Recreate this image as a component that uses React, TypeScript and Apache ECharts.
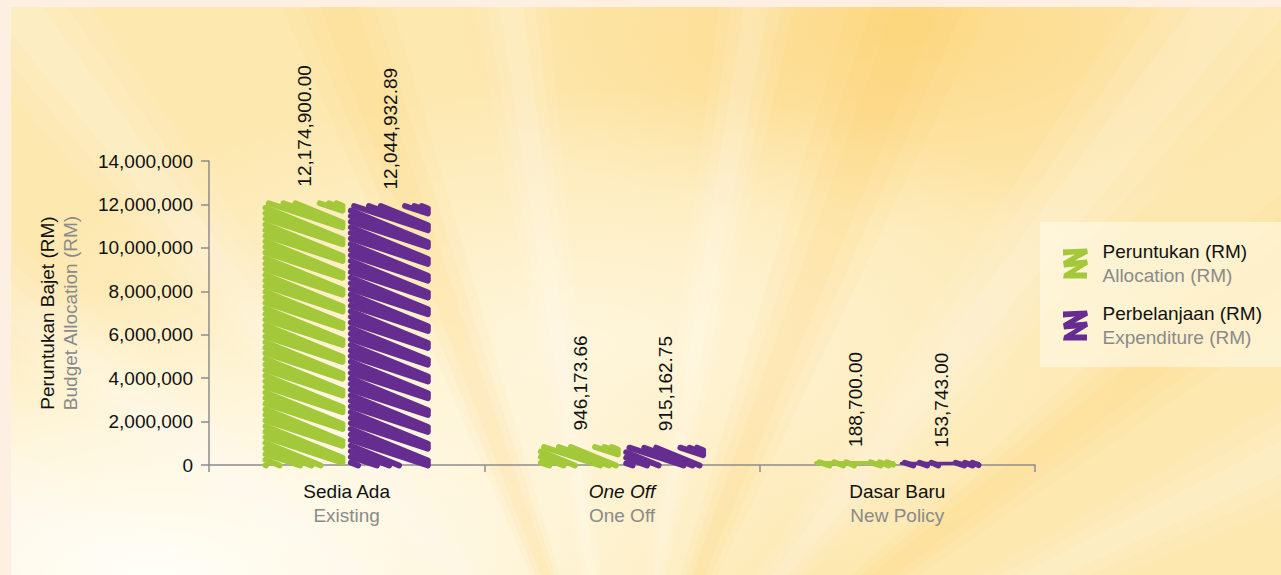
import { useEffect, useRef } from "react";
import * as echarts from "echarts";

// ---- data ----
const categoriesMs = ["Sedia Ada", "One Off", "Dasar Baru"];
const categoriesEn = ["Existing", "One Off", "New Policy"];
const allocation = [12174900, 946173.66, 188700];
const expenditure = [12044932.89, 915162.75, 153743];
const seriesNamesMs = ["Peruntukan (RM)", "Perbelanjaan (RM)"];
const seriesNamesEn = ["Allocation (RM)", "Expenditure (RM)"];
const yAxisTitle = ["Peruntukan Bajet (RM)", "Budget Allocation (RM)"];
const yMin = 0;
const yMax = 14000000;
const yInterval = 2000000;

const FONT = '"Liberation Sans", Arial, Helvetica, sans-serif';
const GREEN = "#a3c93a";
const PURPLE = "#662d91";
const GRAY_TEXT = "#8a8a8a";
const AXIS = "#8c8c8c";

const ZIG =
  "path://M1,1 L25,0 L26,5 L13,12 L25,11 L26,16 L13,24 L25,24 L25,30 L1,30 L2,25 L14,18 L2,19 L1,13 L13,6 L1,7 Z";

function fmt(v: number) {
  return v.toLocaleString("en-US", { minimumFractionDigits: 2, maximumFractionDigits: 2 });
}

function makeRenderItem(color: string, side: number) {
  return (params: any, api: any) => {
    const cat = api.value(0);
    const val = api.value(1);
    const base = api.coord([cat, 0]);
    const top = api.coord([cat, val]);
    const band = api.size([1, 0])[0];
    const barW = band * 0.298;
    const gap = band * 0.012;
    const cx = base[0] + side * (barW + gap) / 2;
    const x0 = cx - barW / 2 + 2.5;
    const x1 = cx + barW / 2 - 2.5;
    const h = base[1] - top[1];
    const yT = top[1] + Math.min(2.5, h * 0.3);
    const yB = base[1] + 0.5;
    const W = x1 - x0;
    const H = yB - yT;
    const step = 5.6;
    const children: any[] = [];
    if (h < 10) {
      children.push({
        type: "line",
        shape: { x1: x0, y1: base[1] - h / 2, x2: x1, y2: base[1] - h / 2 },
        style: { stroke: color, lineWidth: Math.max(3, h), lineCap: "round" },
      });
    }
    let k = 0;
    for (let c = -0.45 * W; c < H + step; c += step, k++) {
      const s = k % 3 === 0 ? 0.33 : k % 3 === 1 ? 0.41 : 0.37;
      const xa = Math.max(x0, x0 + (0 - c) / s);
      const xb = Math.min(x1, x0 + (H - c) / s);
      if (xb - xa < 0.5) continue;
      children.push({
        type: "line",
        shape: { x1: xa, y1: yT + c + s * (xa - x0), x2: xb, y2: yT + c + s * (xb - x0) },
        style: { stroke: color, lineWidth: 5.8, lineCap: "round" },
      });
    }
    children.push({
      type: "text",
      x: cx + 1,
      y: top[1] - 14,
      rotation: Math.PI / 2,
      style: {
        text: fmt(val),
        fill: "#111",
        font: `19px ${FONT}`,
        align: "left",
        verticalAlign: "middle",
      },
    });
    return { type: "group", children };
  };
}

function backgroundElements() {
  const els: any[] = [];
  els.push({ type: "rect", z: -10, shape: { x: 0, y: 0, width: 1281, height: 575 }, style: { fill: "#fde8b0" } });
  els.push({
    type: "rect",
    z: -10,
    shape: { x: 0, y: 0, width: 1281, height: 575 },
    style: {
      fill: new echarts.graphic.RadialGradient(0.7, 0.05, 0.35, [
        { offset: 0, color: "rgba(252,208,110,0.6)" },
        { offset: 1, color: "rgba(252,208,110,0)" },
      ]),
    },
  });
  els.push({
    type: "rect",
    z: -10,
    shape: { x: 0, y: 0, width: 1281, height: 575 },
    style: {
      fill: new echarts.graphic.RadialGradient(0.45, 0.6, 0.45, [
        { offset: 0, color: "rgba(255,252,240,0.7)" },
        { offset: 1, color: "rgba(255,252,240,0)" },
      ]),
    },
  });
  els.push({
    type: "rect",
    z: -10,
    shape: { x: 0, y: 0, width: 1281, height: 575 },
    style: {
      fill: new echarts.graphic.RadialGradient(0.12, 1.0, 0.5, [
        { offset: 0, color: "rgba(255,254,248,1)" },
        { offset: 0.5, color: "rgba(255,252,240,0.7)" },
        { offset: 1, color: "rgba(255,252,240,0)" },
      ]),
    },
  });
  const cxr = 620;
  const cyr = 780;
  const rays: [number, number, string][] = [
    [-66, 5, "w"], [-52, 4, "w"], [-38, 4, "w"], [-20, 4, "o"], [-8, 3, "w"],
    [10, 3, "w"], [21, 5, "o"], [38, 5, "w"], [52, 4, "o"], [64, 4, "w"],
  ];
  const R = 1600;
  for (const [a, w, kind] of rays) {
    for (const [f, alpha] of [[1.8, 0.06], [1.2, 0.07], [0.6, 0.08]]) {
      const a1 = ((a - (w * f) / 2) * Math.PI) / 180;
      const a2 = ((a + (w * f) / 2) * Math.PI) / 180;
      els.push({
        type: "polygon",
        z: -9,
        shape: {
          points: [
            [cxr, cyr],
            [cxr + R * Math.sin(a1), cyr - R * Math.cos(a1)],
            [cxr + R * Math.sin(a2), cyr - R * Math.cos(a2)],
          ],
        },
        style: {
          fill: kind === "w" ? `rgba(255,255,255,${alpha * 1.3})` : `rgba(250,200,90,${alpha})`,
        },
      });
    }
  }
  // cream frame
  els.push({ type: "rect", z: -8, shape: { x: 0, y: 0, width: 1281, height: 7 }, style: { fill: "#fdf0e2" } });
  els.push({ type: "rect", z: -8, shape: { x: 0, y: 0, width: 11, height: 575 }, style: { fill: "#fdf0e2" } });
  // legend panel
  els.push({
    type: "rect",
    z: -7,
    shape: { x: 1040, y: 222, width: 241, height: 145 },
    style: { fill: "rgba(255,250,232,0.6)" },
  });
  // y axis title
  els.push({
    type: "text",
    z: 5,
    x: 47,
    y: 313,
    rotation: Math.PI / 2,
    style: { text: yAxisTitle[0], fill: "#111", font: `19px ${FONT}`, align: "center", verticalAlign: "middle" },
  });
  els.push({
    type: "text",
    z: 5,
    x: 70,
    y: 313,
    rotation: Math.PI / 2,
    style: { text: yAxisTitle[1], fill: GRAY_TEXT, font: `19px ${FONT}`, align: "center", verticalAlign: "middle" },
  });
  return els;
}

export default function App() {
  const ref = useRef<HTMLDivElement>(null);
  useEffect(() => {
    if (!ref.current) return;
    const chart = echarts.init(ref.current, undefined, { renderer: "svg" });
    const option: any = {
      animation: false,
      graphic: { elements: backgroundElements() },
      grid: { left: 209, right: 246, top: 161, bottom: 110, containLabel: false },
      legend: {
        orient: "vertical",
        left: 1063,
        top: 242,
        itemWidth: 26,
        itemHeight: 30,
        itemGap: 19,
        padding: 0,
        icon: ZIG,
        data: seriesNamesMs,
        formatter: (name: string) => {
          const i = seriesNamesMs.indexOf(name);
          return `{a|${name}}\n{b|${seriesNamesEn[i]}}`;
        },
        textStyle: {
          rich: {
            a: { fontSize: 19, fontFamily: FONT, color: "#111", lineHeight: 24, padding: [0, 0, 0, 9] },
            b: { fontSize: 19, fontFamily: FONT, color: GRAY_TEXT, lineHeight: 24, padding: [0, 0, 0, 9] },
          },
        },
      },
      xAxis: {
        type: "category",
        data: categoriesMs,
        boundaryGap: true,
        axisLine: { show: true, lineStyle: { color: AXIS, width: 1.5 } },
        axisTick: { show: true, length: 7, lineStyle: { color: AXIS, width: 1.5 } },
        axisLabel: {
          margin: 14,
          formatter: (value: string, index: number) =>
            index === 1
              ? `{i|${value}}\n{b|${categoriesEn[index]}}`
              : `{a|${value}}\n{b|${categoriesEn[index]}}`,
          rich: {
            a: { fontSize: 19, fontFamily: FONT, color: "#111", lineHeight: 24 },
            i: { fontSize: 19, fontFamily: FONT, color: "#111", lineHeight: 24, fontStyle: "italic" },
            b: { fontSize: 19, fontFamily: FONT, color: GRAY_TEXT, lineHeight: 24 },
          },
        },
      },
      yAxis: {
        type: "value",
        min: yMin,
        max: yMax,
        interval: yInterval,
        axisLine: { show: true, lineStyle: { color: AXIS, width: 1.5 } },
        axisTick: { show: true, length: 8, lineStyle: { color: AXIS, width: 1.5 } },
        splitLine: { show: false },
        axisLabel: {
          margin: 16,
          fontSize: 19,
          fontFamily: FONT,
          color: "#111",
          formatter: (v: number) => v.toLocaleString("en-US"),
        },
      },
      series: [
        {
          type: "custom",
          name: seriesNamesMs[0],
          itemStyle: { color: GREEN },
          encode: { x: 0, y: 1 },
          data: allocation.map((v, i) => [i, v]),
          renderItem: makeRenderItem(GREEN, -1),
          z: 3,
        },
        {
          type: "custom",
          name: seriesNamesMs[1],
          itemStyle: { color: PURPLE },
          encode: { x: 0, y: 1 },
          data: expenditure.map((v, i) => [i, v]),
          renderItem: makeRenderItem(PURPLE, 1),
          z: 3,
        },
      ],
    };
    chart.setOption(option);
    return () => chart.dispose();
  }, []);
  return (
    <div
      ref={ref}
      style={{ position: "absolute", left: 0, top: 0, width: 1281, height: 575 }}
    />
  );
}
